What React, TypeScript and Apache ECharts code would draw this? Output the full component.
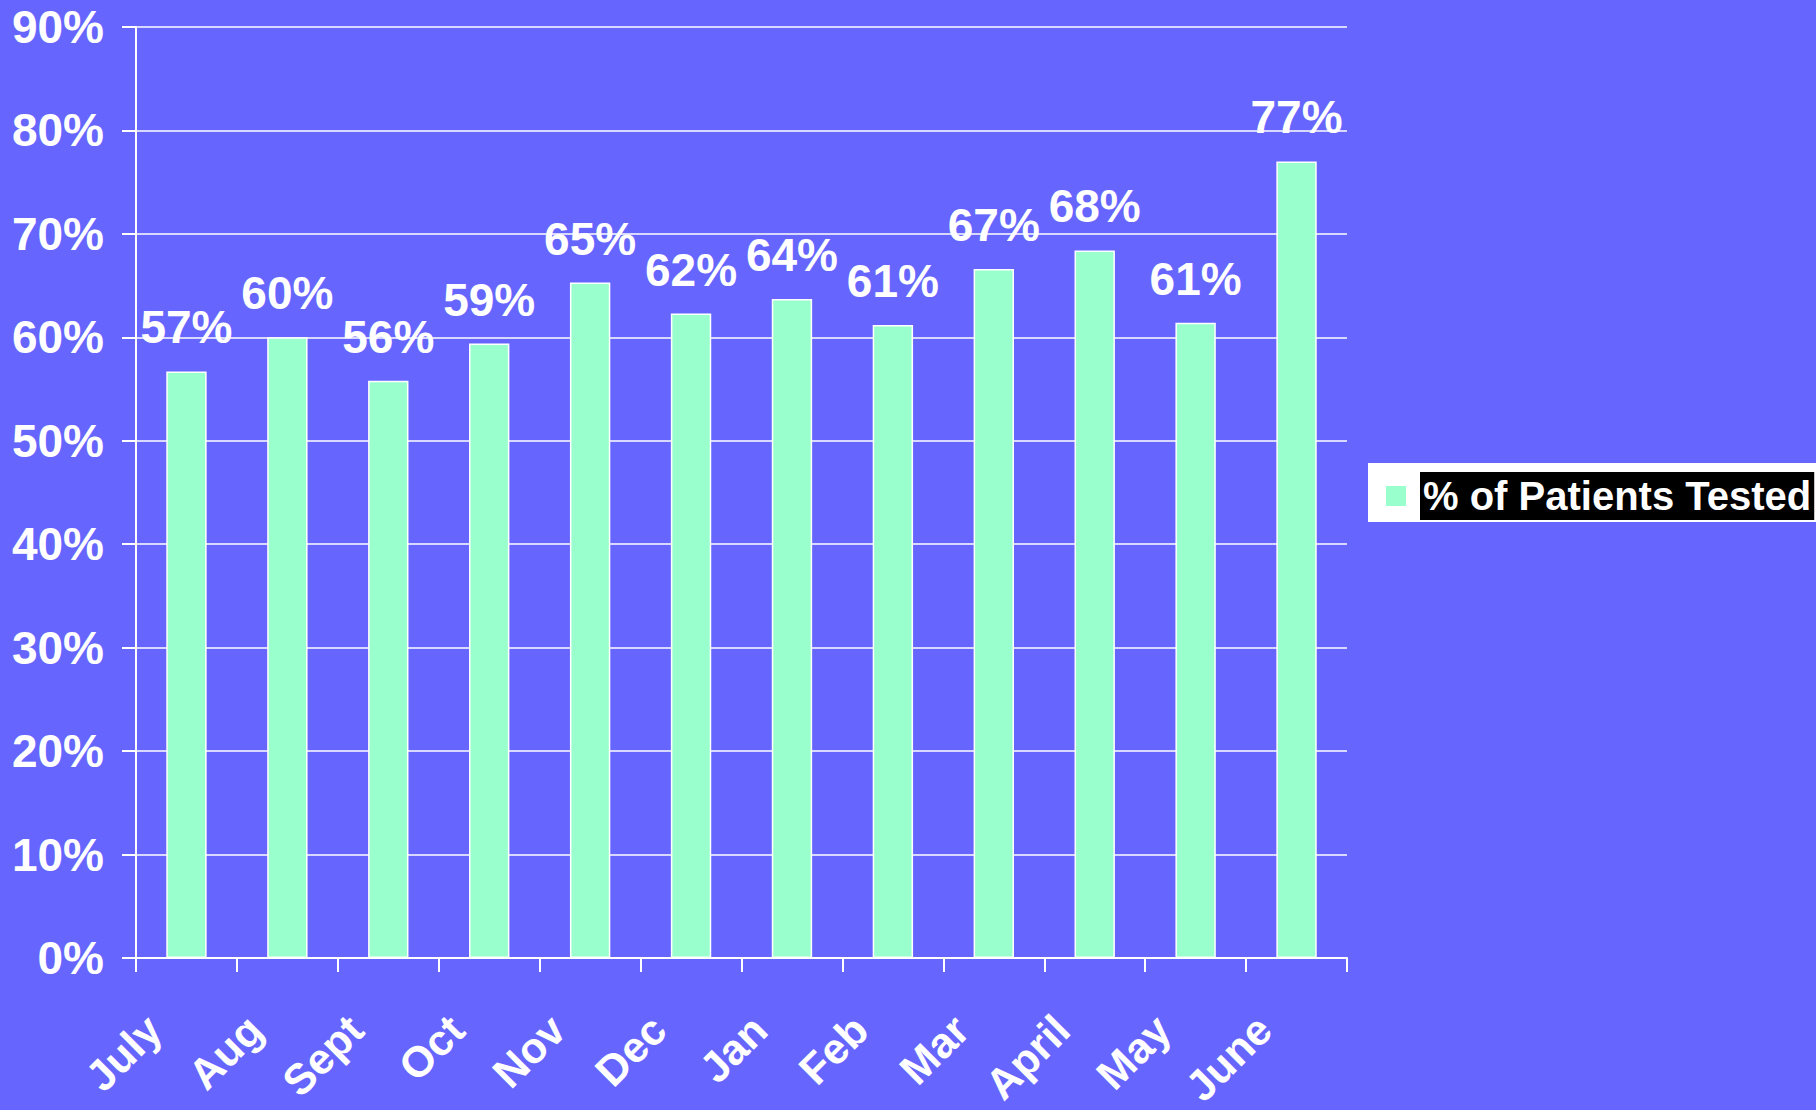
import React, { useEffect, useRef } from "react";
import * as echarts from "echarts";

const months = ["July", "Aug", "Sept", "Oct", "Nov", "Dec", "Jan", "Feb", "Mar", "April", "May", "June"];
const pctTested = [56.7, 60.0, 55.8, 59.4, 65.3, 62.3, 63.7, 61.2, 66.6, 68.4, 61.4, 77.0];
const seriesName = "% of Patients Tested";
const yMin = 0;
const yMax = 90;
const yStep = 10;

const FONT = "'Liberation Sans', Arial, Helvetica, sans-serif";

export default function App() {
  const ref = useRef<HTMLDivElement>(null);
  useEffect(() => {
    document.body.style.margin = "0";
    document.body.style.background = "#6666FF";
    const chart = echarts.init(ref.current!, null, { renderer: "svg" });
    chart.setOption({
      animation: false,
      backgroundColor: "#6666FF",
      textStyle: { fontFamily: FONT },
      grid: {
        left: 136,
        top: 27,
        right: 469,
        bottom: 152,
        containLabel: false,
        outerBoundsMode: "none",
      },
      legend: {
        left: 1368,
        top: 463,
        orient: "vertical",
        backgroundColor: "#FFFFFF",
        borderRadius: 0,
        padding: [9, 20, 2, 16],
        itemWidth: 30,
        itemHeight: 22,
        icon: "path://M0 0H22V22H0Z M29.95 0H30V0.05H29.95Z",
        data: [seriesName],
        textStyle: {
          color: "#FFFFFF",
          fontSize: 40,
          fontWeight: "bold",
          fontFamily: FONT,
          backgroundColor: "#000000",
          padding: [5, 3, 3, 3],
          lineHeight: 40,
        },
      },
      xAxis: {
        type: "category",
        data: months,
        axisLine: { show: true, lineStyle: { color: "#FFFFFF", width: 2 } },
        axisTick: { show: true, length: 14, lineStyle: { color: "#FFFFFF", width: 2 } },
        axisLabel: {
          interval: 0,
          rotate: 45,
          margin: 32,
          padding: [0, 46, 0, 0],
          color: "#FFFFFF",
          fontSize: 43,
          fontWeight: "bold",
          fontFamily: FONT,
        },
        splitLine: { show: false },
      },
      yAxis: {
        type: "value",
        min: yMin,
        max: yMax,
        interval: yStep,
        axisLine: { show: true, lineStyle: { color: "#FFFFFF", width: 2 } },
        axisTick: { show: true, length: 14, lineStyle: { color: "#FFFFFF", width: 2 } },
        axisLabel: {
          margin: 32,
          color: "#FFFFFF",
          fontSize: 46,
          fontWeight: "bold",
          fontFamily: FONT,
          formatter: "{value}%",
        },
        splitLine: { show: true, lineStyle: { color: "#FFFFFF", width: 1.5 } },
      },
      series: [
        {
          name: seriesName,
          type: "bar",
          data: pctTested,
          barWidth: "40%",
          itemStyle: { color: "#99FFCC", borderColor: "#FFFFFF", borderWidth: 1.5 },
          label: {
            show: true,
            position: "top",
            distance: 21,
            color: "#FFFFFF",
            fontSize: 46,
            fontWeight: "bold",
            fontFamily: FONT,
            formatter: (p: any) => Math.round(p.value) + "%",
          },
        },
      ],
    });
    return () => chart.dispose();
  }, []);
  return <div ref={ref} style={{ width: 1816, height: 1110 }} />;
}
